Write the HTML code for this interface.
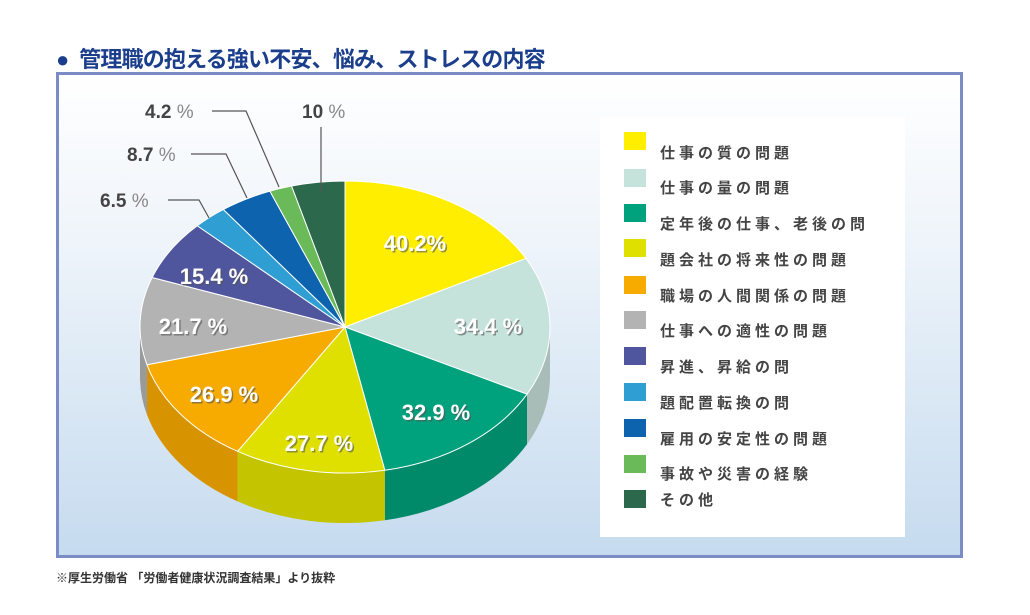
<!DOCTYPE html>
<html><head><meta charset="utf-8">
<style>
body{margin:0;width:1030px;height:615px;background:#fff;position:relative;overflow:hidden;font-family:"Liberation Sans","Noto Sans CJK JP",sans-serif}
.title{position:absolute;left:56px;top:42px;font-size:22px;font-weight:bold;color:#1b3e8c;letter-spacing:-0.8px}
.frame{position:absolute;left:56px;top:72px;width:901px;height:480px;border:3px solid #7c8cc6;background:linear-gradient(#ffffff 0%,#eef4fa 35%,#c6dbef 100%)}
.legend{position:absolute;left:600px;top:117px;width:305px;height:420px;background:#fff}
.sw{position:absolute;left:624px;width:22px;height:18px}
.lt{position:absolute;left:660px;font-size:15px;letter-spacing:4px;color:#444;font-weight:bold;line-height:18px}
.foot{position:absolute;left:56px;top:569px;font-size:12px;font-weight:bold;color:#333}
svg{position:absolute;left:0;top:0}
</style></head><body>
<div class="title">●&nbsp; 管理職の抱える強い不安、悩み、ストレスの内容</div>
<div class="frame"></div>
<div class="legend"></div>
<svg id="pie" width="1030" height="615"></svg>
<div class="sw" style="top:132px;background:#ffee00"></div><div class="lt" style="top:145px">仕事の質の問題</div>
<div class="sw" style="top:169px;background:#c5e3da"></div><div class="lt" style="top:180px">仕事の量の問題</div>
<div class="sw" style="top:204px;background:#00a27e"></div><div class="lt" style="top:216px">定年後の仕事、老後の問</div>
<div class="sw" style="top:239px;background:#e0e000"></div><div class="lt" style="top:252px">題会社の将来性の問題</div>
<div class="sw" style="top:276px;background:#f7ab00"></div><div class="lt" style="top:288px">職場の人間関係の問題</div>
<div class="sw" style="top:311px;background:#b3b3b3"></div><div class="lt" style="top:323px">仕事への適性の問題</div>
<div class="sw" style="top:347px;background:#4f569e"></div><div class="lt" style="top:359px">昇進、昇給の問</div>
<div class="sw" style="top:383px;background:#2f9fd3"></div><div class="lt" style="top:395px">題配置転換の問</div>
<div class="sw" style="top:419px;background:#0d63ad"></div><div class="lt" style="top:431px">雇用の安定性の問題</div>
<div class="sw" style="top:455px;background:#6aba5a"></div><div class="lt" style="top:466px">事故や災害の経験</div>
<div class="sw" style="top:490px;background:#2c684b"></div><div class="lt" style="top:492px">その他</div>
<div class="foot">※厚生労働省 「労働者健康状況調査結果」より抜粋</div>
<script>
var cx=345,cy=327,rx=205,ry=146,d=50;
var s=[[0,62,'#ffee00','#d8c800'],[62,117.4,'#c5e3da','#a8bdb8'],[117.4,168.8,'#00a27e','#008a6a'],[168.8,211.6,'#e0e000','#c4c400'],[211.6,255,'#f7ab00','#d89400'],[255,289.8,'#b3b3b3','#9a9a9a'],[289.8,313.9,'#4f569e','#434a88'],[313.9,323.6,'#2f9fd3','#2a8abb'],[323.6,338.5,'#0d63ad','#0b5595'],[338.5,344.9,'#6aba5a','#5aa04c'],[344.9,360,'#2c684b','#245a40']];
function P(a,o){var r=a*Math.PI/180;return [cx+rx*Math.sin(r),cy-ry*Math.cos(r)+(o||0)];}
var h='';
s.forEach(function(t){var a=Math.max(t[0],90),b=Math.min(t[1],270);if(b>a){var p1=P(a),p2=P(b),p3=P(b,d),p4=P(a,d);
h+='<path d="M'+p1+' A'+rx+' '+ry+' 0 0 1 '+p2+' L'+p3+' A'+rx+' '+ry+' 0 0 0 '+p4+' Z" fill="'+t[3]+'"/>';}});
s.forEach(function(t){var p1=P(t[0]),p2=P(t[1]);var l=(t[1]-t[0])>180?1:0;
h+='<path d="M'+cx+','+cy+' L'+p1+' A'+rx+' '+ry+' 0 '+l+' 1 '+p2+' Z" fill="'+t[2]+'" stroke="#fff" stroke-width="1"/>';});
h+='<g stroke="#555" fill="none" stroke-width="1.2"><polyline points="212,111 246,111 279,187"/><polyline points="191,154 226,154 247,198"/><polyline points="168,200 199,200 209,218"/><line x1="321" y1="127" x2="321" y2="192"/></g>';
h+='<g font-family="Liberation Sans,sans-serif" font-weight="bold" font-size="19" fill="#444"><text x="145" y="118">4.2 <tspan font-weight="normal" fill="#888">%</tspan></text><text x="127" y="161">8.7 <tspan font-weight="normal" fill="#888">%</tspan></text><text x="100" y="207">6.5 <tspan font-weight="normal" fill="#888">%</tspan></text><text x="302" y="118">10 <tspan font-weight="normal" fill="#888">%</tspan></text></g>';
var L=[[415,243,'40.2%'],[488,326,'34.4 %'],[436,412,'32.9 %'],[319,443,'27.7 %'],[224,394,'26.9 %'],[193,326,'21.7 %'],[214,276,'15.4 %']];
h+='<g font-family="Liberation Sans,sans-serif" font-weight="bold" font-size="22" text-anchor="middle">';
L.forEach(function(l){h+='<text x="'+(l[0]+1.5)+'" y="'+(l[1]+9.5)+'" fill="#555" opacity="0.6">'+l[2]+'</text><text x="'+l[0]+'" y="'+(l[1]+8)+'" fill="#fff">'+l[2]+'</text>';});
h+='</g>';
document.getElementById('pie').innerHTML=h;
</script>
</body></html>
